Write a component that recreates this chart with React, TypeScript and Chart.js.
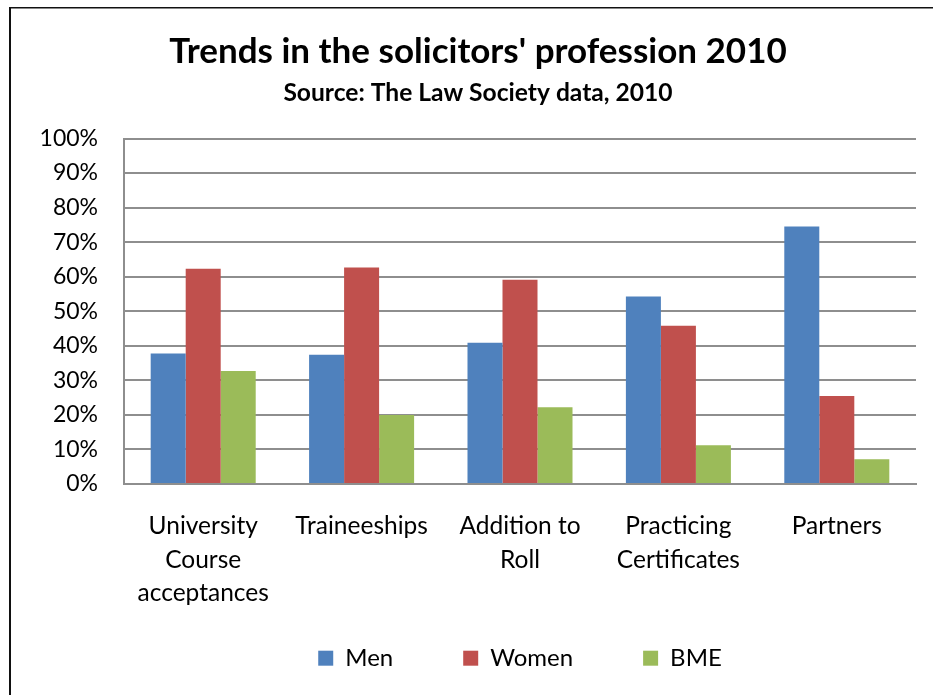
import React, { useEffect, useRef } from "react";
import { Chart, registerables } from "chart.js";

Chart.register(...registerables);

const titleText = "Trends in the solicitors' profession 2010";
const subtitleText = "Source: The Law Society data, 2010";
const categories: (string | string[])[] = [
  ["University", "Course", "acceptances"],
  "Traineeships",
  ["Addition to", "Roll"],
  ["Practicing", "Certificates"],
  "Partners",
];
const seriesNames = ["Men", "Women", "BME"];
const men = [37.8, 37.4, 40.9, 54.3, 74.5];
const women = [62.3, 62.7, 59.1, 45.8, 25.5];
const bme = [32.7, 20.0, 22.2, 11.2, 7.2];
const seriesColors = ["#4F81BD", "#C0504D", "#9BBB59"];
const yMin = 0;
const yMax = 100;
const yStep = 10;

const FONT = "Lato, 'Open Sans', sans-serif";

const framePlugin = {
  id: "frame",
  beforeDraw(chart: any) {
    const { ctx, width, height } = chart;
    ctx.save();
    ctx.fillStyle = "#ffffff";
    ctx.fillRect(0, 0, width, height);
    ctx.fillStyle = "#111111";
    ctx.fillRect(9, 7, 2, height - 7);
    ctx.fillRect(9, 7, width - 9, 1.5);
    ctx.restore();
  },
};

export default function App() {
  const ref = useRef<HTMLCanvasElement | null>(null);
  useEffect(() => {
    if (!ref.current) return;
    const data = [men, women, bme];
    const chart = new Chart(ref.current, {
      type: "bar",
      data: {
        labels: categories,
        datasets: seriesNames.map((name, i) => ({
          label: name,
          data: data[i],
          backgroundColor: seriesColors[i],
          borderWidth: 0,
          categoryPercentage: 0.663,
          barPercentage: 1.0,
        })),
      },
      options: {
        responsive: false,
        animation: false,
        devicePixelRatio: 1,
        layout: { padding: { left: 40, right: 17, top: 0, bottom: 18 } },
        plugins: {
          title: {
            display: true,
            text: titleText,
            color: "#000",
            font: { family: FONT, size: 35, weight: "bold" },
            padding: { top: 31, bottom: 0 },
          },
          subtitle: {
            display: true,
            text: subtitleText,
            color: "#000",
            font: { family: FONT, size: 24.6, weight: "bold" },
            padding: { top: 5, bottom: 31 },
          },
          legend: {
            display: true,
            position: "bottom",
            fullSize: false,
            maxHeight: 55,
            title: {
              display: true,
              text: "",
              font: { size: 1 },
              padding: { top: -47, bottom: 0 },
            },
            labels: {
              color: "#000",
              font: { family: FONT, size: 24 },
              boxWidth: 15,
              boxHeight: 15,
              padding: 70,
            },
          },
          tooltip: { enabled: false },
        },
        scales: {
          x: {
            grid: { display: false, drawTicks: false },
            border: { display: true, color: "#8E8E8E", width: 2 },
            ticks: {
              color: "#000",
              font: { family: FONT, size: 24.5, lineHeight: 1.35 },
              padding: 26,
              maxRotation: 0,
              autoSkip: false,
            },
            afterFit(scale: any) {
              scale.height = 138;
            },
          },
          y: {
            min: yMin,
            max: yMax,
            grid: { color: "#8E8E8E", lineWidth: 2, drawTicks: false },
            border: { display: true, color: "#8E8E8E", width: 2 },
            ticks: {
              stepSize: yStep,
              color: "#000",
              font: { family: FONT, size: 23 },
              padding: 26,
              callback: (v: any) => v + "%",
            },
            afterFit(scale: any) {
              scale.width = 84;
            },
          },
        },
      },
      plugins: [framePlugin],
    } as any);
    return () => chart.destroy();
  }, []);
  return (
    <div style={{ position: "fixed", left: 0, top: 0, width: 933, height: 695, overflow: "hidden" }}>
      <canvas ref={ref} width={933} height={695} style={{ display: "block" }} />
    </div>
  );
}
